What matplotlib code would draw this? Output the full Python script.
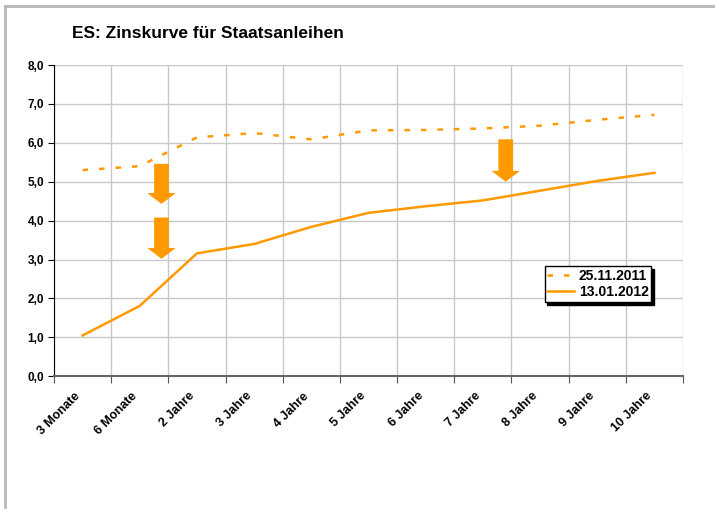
import numpy as np
import matplotlib
matplotlib.use("Agg")
from matplotlib import pyplot as plt
from matplotlib.patches import FancyArrowPatch
from matplotlib.lines import Line2D

plt.rcParams['font.family'] = ['Liberation Sans', 'DejaVu Sans']
plt.rcParams['font.weight'] = 'bold'

# Daten
laufzeiten = ['3 Monate', '6 Monate', '2 Jahre', '3 Jahre', '4 Jahre', '5 Jahre',
              '6 Jahre', '7 Jahre', '8 Jahre', '9 Jahre', '10 Jahre']
rendite_2011 = [5.30, 5.40, 6.14, 6.25, 6.09, 6.32, 6.33, 6.37, 6.44, 6.59, 6.72]
rendite_2012 = [1.05, 1.81, 3.16, 3.40, 3.84, 4.20, 4.37, 4.52, 4.77, 5.02, 5.23]
label_2011 = '25.11.2011'
label_2012 = '13.01.2012'

# Pfeile: (x-Position, Start, Ende)
pfeile = [(1.38, 5.46, 4.43), (1.38, 4.08, 3.02), (7.40, 6.09, 5.00)]

orange = '#FF9900'

fig = plt.figure(figsize=(7.15, 5.09), dpi=100)
ax = fig.add_axes([54 / 715, 1 - 376.3 / 509, 629 / 715, 311.3 / 509])

x = np.arange(len(laufzeiten))
ax.plot(x, rendite_2011, color=orange, lw=1.8, linestyle=(0, (2.2, 4.4)), label=label_2011)
ax.plot(x, rendite_2012, color=orange, lw=1.8, label=label_2012)

for px, y0, y1 in pfeile:
    ax.add_patch(FancyArrowPatch((px, y0), (px, y1),
                                 arrowstyle='Simple,head_length=7.8,head_width=20.5,tail_width=10.6',
                                 mutation_scale=1, shrinkA=0, shrinkB=0,
                                 color=orange, lw=0, zorder=4))

ax.set_xlim(-0.5, len(laufzeiten) - 0.5)
ax.set_ylim(0, 8)
ax.set_yticks(np.arange(0, 8.1, 1))
ax.set_yticklabels([f'{v:.1f}'.replace('.', ',') for v in np.arange(0, 8.1, 1)], fontsize=8.5)
ax.set_xticks(np.arange(-0.5, len(laufzeiten)), labels=[])
ax.set_xticks(x, minor=True)
ax.set_xticklabels(laufzeiten, minor=True, rotation=45, ha='right', va='top',
                   rotation_mode='default', fontsize=9)
ax.tick_params(axis='x', which='minor', length=0, pad=10)
ax.tick_params(axis='x', which='major', length=5, color='#555555')
ax.tick_params(axis='y', length=4, pad=3)

ax.grid(True, which='major', color='#c8c8c8', lw=1)
ax.set_axisbelow(True)
for s in ['top', 'right']:
    ax.spines[s].set_visible(False)
ax.spines['left'].set_color('black')
ax.spines['bottom'].set_color('#666666')
ax.spines['bottom'].set_linewidth(1.5)

leg = ax.legend(loc='upper left', bbox_to_anchor=(0.78, 0.354), borderaxespad=0,
                fancybox=False, edgecolor='black', framealpha=1, fontsize=10,
                handlelength=1.95, handletextpad=0.3, borderpad=0.2, labelspacing=0.15,
                shadow={'color': 'black', 'alpha': 1})
leg.get_frame().set_linewidth(1)

fig.text(72 / 715, 1 - 33 / 509, 'ES: Zinskurve für Staatsanleihen', fontsize=12.5,
         fontweight='bold', va='center', ha='left')

# Rahmen
fig.add_artist(Line2D([5 / 715, 1], [1 - 6 / 509] * 2, color='#b8b8b8', lw=2,
                      transform=fig.transFigure))
fig.add_artist(Line2D([5 / 715] * 2, [0, 1 - 6 / 509], color='#b8b8b8', lw=2,
                      transform=fig.transFigure))

fig.savefig('out.png', dpi=100)
